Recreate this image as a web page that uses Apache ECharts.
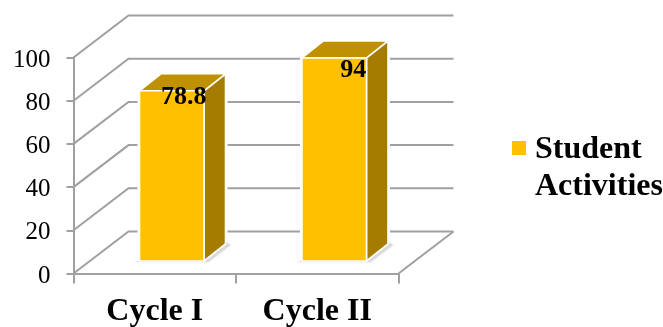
<!DOCTYPE html>
<html><head><meta charset="utf-8">
<style>html,body{margin:0;padding:0;background:#fff}#c{width:663px;height:327px}</style>
<script src="https://cdn.jsdelivr.net/npm/echarts@6/dist/echarts.min.js"></script>
</head><body><div id="c"></div>
<script>
const categories = ['Cycle I', 'Cycle II'];
const studentActivities = [78.8, 94];
const yTicks = [0, 20, 40, 60, 80, 100];
const seriesName = 'Student Activities';

const FONT = '"Liberation Serif","Times New Roman",serif';
const GRID_C = '#A0A0A0';
const WALL = [55, -42];     // chart-box depth
const SHIFT = [17, -12.5];  // front of bar behind the axis plane
const DEPTH = [21.5, -17];  // bar depth
const BAR_W = 64.5;
const labelNudge = [[12, 6], [19, 12]];

const chart = echarts.init(document.getElementById('c'));

function renderWall(params, api) {
  const cs = params.coordSys;
  const v = api.value(0);
  const y = api.coord([0, v])[1];
  const x0 = cs.x, x1 = cs.x + cs.width;
  const st = { stroke: GRID_C, lineWidth: 2, fill: null };
  const children = [{
    type: 'polyline', silent: true,
    shape: { points: [[x0, y], [x0 + WALL[0], y + WALL[1]], [x1 + WALL[0], y + WALL[1]]] },
    style: st
  }];
  if (v === 0) {
    children.push({
      type: 'line', silent: true,
      shape: { x1: x1, y1: y, x2: x1 + WALL[0], y2: y + WALL[1] },
      style: st
    });
  }
  return { type: 'group', children };
}

function renderBar(params, api) {
  const i = api.value(0);
  const val = api.value(1);
  const base = api.coord([i, 0]);
  const top = api.coord([i, val]);
  const l = base[0] - BAR_W / 2 + SHIFT[0], r = l + BAR_W;
  const b = base[1] + SHIFT[1], t = top[1] + SHIFT[1];
  const dx = DEPTH[0], dy = DEPTH[1];
  const edge = { stroke: '#fff', lineWidth: 1.6, lineJoin: 'round' };
  const nudge = labelNudge[i];
  return {
    type: 'group',
    children: [
      { type: 'polygon', silent: true,
        shape: { points: [[l - 2, t + dy / 2], [r + dx + 2, t + dy - 1], [r + dx + 2, b + dy], [l - 2, b]] },
        style: { fill: '#fff' } },
      { type: 'polygon', silent: true,
        shape: { points: [[l - 5, b + 1], [r + 4, b + 1], [r + dx + 5, b + dy + 1], [r + dx - 2, b + dy - 3]] },
        style: { fill: '#D9D9D9', shadowBlur: 3, shadowColor: '#DDD' } },
      { type: 'polygon', silent: true,
        shape: { points: [[r, t], [r + dx, t + dy], [r + dx, b + dy], [r, b]] },
        style: Object.assign({ fill: '#A67C00' }, edge) },
      { type: 'polygon', silent: true,
        shape: { points: [[l, t], [l + dx, t + dy], [r + dx, t + dy], [r, t]] },
        style: Object.assign({ fill: '#BF9000' }, edge) },
      { type: 'rect', silent: true,
        shape: { x: l, y: t, width: BAR_W, height: b - t },
        style: Object.assign({ fill: '#FFC000' }, edge) },
      { type: 'text', silent: true,
        x: (l + r) / 2 + nudge[0], y: t + nudge[1],
        style: { text: String(val), font: 'bold 26px ' + FONT, fill: '#000', align: 'center', verticalAlign: 'middle' } }
    ]
  };
}

chart.setOption({
  animation: false,
  backgroundColor: '#fff',
  grid: { left: 73.5, right: 264.5, top: 57.5, bottom: 53.5, containLabel: false, outerBoundsMode: 'none' },
  legend: {
    show: true,
    data: [seriesName],
    left: 512, top: 131, padding: 0,
    itemWidth: 18, itemHeight: 54, itemGap: 0,
    icon: 'path://M0,0H14V14H0Z M18,54L18,54',
    formatter: () => 'Student\nActivities',
    textStyle: { fontFamily: FONT, fontWeight: 'bold', fontSize: 32, lineHeight: 37, color: '#000' }
  },
  xAxis: {
    type: 'category', data: categories, boundaryGap: true,
    axisLine: { show: true, lineStyle: { color: GRID_C, width: 2 } },
    axisTick: { show: true, length: 10, alignWithLabel: false, lineStyle: { color: GRID_C, width: 2 } },
    axisLabel: { fontFamily: FONT, fontWeight: 'bold', fontSize: 32, color: '#000', margin: 22 }
  },
  yAxis: {
    type: 'value', min: 0, max: 100, interval: 20,
    splitLine: { show: false },
    axisLine: { show: true, lineStyle: { color: GRID_C, width: 2 } },
    axisTick: { show: true, length: 7, lineStyle: { color: GRID_C, width: 2 } },
    axisLabel: {
      margin: 23, formatter: '{a|{value}}',
      rich: { a: { fontFamily: FONT, fontSize: 25, color: '#000', padding: [5, 0, 0, 0] } }
    }
  },
  series: [
    { type: 'custom', name: 'walls', z: 1, clip: false, silent: true,
      renderItem: renderWall, encode: { y: 0 }, data: yTicks.map(v => [v]) },
    { type: 'custom', name: seriesName, z: 3, clip: false, silent: true,
      itemStyle: { color: '#FFC000' },
      renderItem: renderBar, encode: { x: 0, y: 1 },
      data: categories.map((c, i) => [i, studentActivities[i]]) }
  ]
});
</script></body></html>
